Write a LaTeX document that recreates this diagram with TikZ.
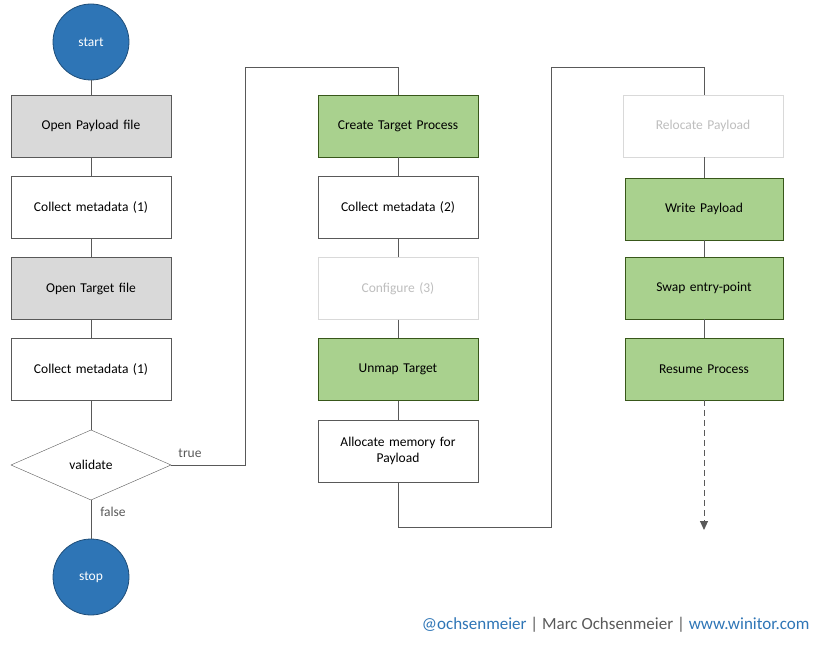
\documentclass[tikz,border=0pt]{standalone}
\usepackage{fontspec}
\setmainfont{Carlito}
\usetikzlibrary{arrows.meta}
\definecolor{gfill}{HTML}{D9D9D9}
\definecolor{grfill}{HTML}{A9D18E}
\definecolor{grline}{HTML}{38571A}
\definecolor{cfill}{HTML}{2E75B6}
\definecolor{cline}{HTML}{1F4E79}
\definecolor{lnk}{HTML}{595959}
\definecolor{foot}{HTML}{2E75B6}
\begin{document}
\begin{tikzpicture}[x=1pt,y=-1pt,font=\fontsize{13.5}{16}\selectfont,
 box/.style={draw=lnk,fill=white,minimum width=160pt,minimum height=62pt,inner sep=0pt,align=center,text width=150pt},
 gray/.style={box,fill=gfill},
 green/.style={box,fill=grfill,draw=grline},
 faint/.style={box,draw=gfill,text=gfill!70!gray},
 circ/.style={circle,fill=cfill,draw=cline,line width=0.8pt,minimum size=76pt,inner sep=0pt,text=white},
 ln/.style={draw=lnk,line width=0.6pt}]
\useasboundingbox (0,0) rectangle (823,647);
\node[circ] (start) at (91,42) {start};
\node[gray] (a1) at (91,126) {Open Payload file};
\node[box] (a2) at (91,207.5) {Collect metadata (1)};
\node[gray] (a3) at (91,288.5) {Open Target file};
\node[box] (a4) at (91,369) {Collect metadata (1)};
\coordinate (vt) at (91,430); \coordinate (vb) at (91,500); \coordinate (vr) at (171,465);
\path[draw=lnk,fill=white] (11,465) -- (vt) -- (vr) -- (vb) -- cycle;
\node (v) at (91,465) {validate};
\node[circ] (stop) at (91,577) {stop};
\node[green] (b1) at (398,126) {Create Target Process};
\node[box] (b2) at (398,207.5) {Collect metadata (2)};
\node[faint] (b3) at (398,288.5) {Configure (3)};
\node[green] (b4) at (398,369.5) {Unmap Target};
\node[box] (b5) at (398,451) {Allocate memory for\\Payload};
\node[faint] (c1) at (703,126) {Relocate Payload};
\node[green,minimum width=158pt] (c2) at (704,209) {Write Payload};
\node[green,minimum width=158pt] (c3) at (704,288) {Swap entry-point};
\node[green,minimum width=158pt] (c4) at (704,369) {Resume Process};
\coordinate (end) at (704,530);
\draw[ln] (start) -- (a1); \draw[ln] (a1) -- (a2); \draw[ln] (a2) -- (a3);
\draw[ln] (a3) -- (a4); \draw[ln] (a4) -- (vt);
\draw[ln] (vb) -- (stop);
\node[text=lnk] at (113,512) {false};
\draw[ln] (vr) -- (245,465) -- (245,67) -- (398,67) -- (b1.north);
\node[text=lnk] at (190,453) {true};
\draw[ln] (b1) -- (b2); \draw[ln] (b2) -- (b3); \draw[ln] (b3) -- (b4); \draw[ln] (b4) -- (b5);
\draw[ln] (b5.south) -- (398,527) -- (551,527) -- (551,67) -- (704,67) -- (704,95);
\draw[ln] (c1.south -| c2.north) -- (c2); \draw[ln] (c2) -- (c3); \draw[ln] (c3) -- (c4);
\draw[ln,dash pattern=on 6pt off 4pt,line width=1pt,-{Triangle[length=9pt,width=8pt]}] (c4) -- (end);
\node[anchor=east,text=foot,font=\fontsize{17}{20}\selectfont] at (813,625) {@ochsenmeier {\color{lnk}|} {\color{lnk}Marc Ochsenmeier} {\color{lnk}|} www.winitor.com};
\end{tikzpicture}
\end{document}
